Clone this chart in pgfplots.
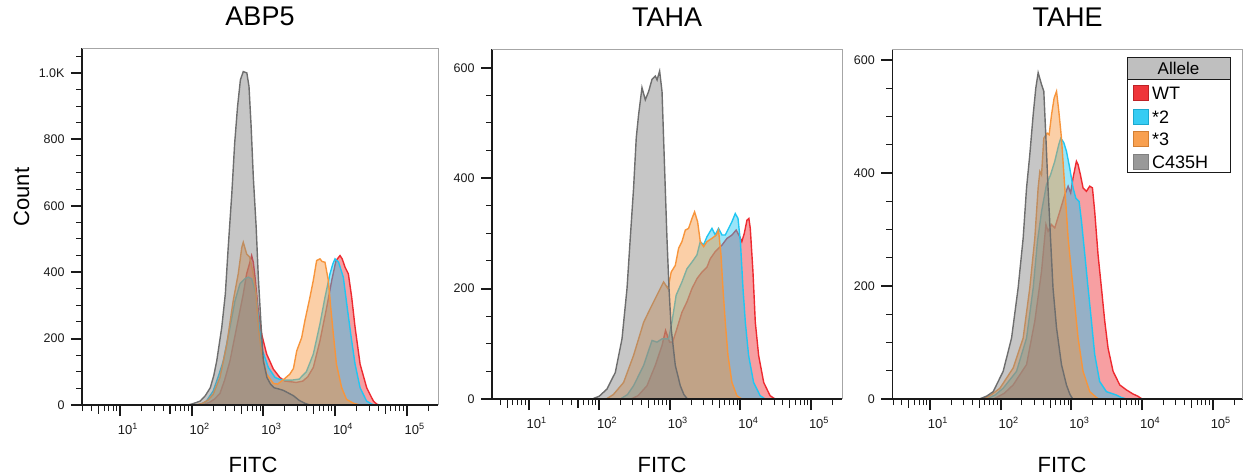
\documentclass[border=0pt]{standalone}
\usepackage{fontspec}
\setmainfont{Liberation Sans}
\usepackage{pgfplots}
\pgfplotsset{compat=1.18}

\definecolor{cWT}{HTML}{EE2A30}
\definecolor{cTwo}{HTML}{20C6F2}
\definecolor{cThree}{HTML}{F7953C}
\definecolor{cGrey}{HTML}{858585}
\definecolor{cGreyL}{HTML}{6E6E6E}
\definecolor{axc}{HTML}{1A1A1A}

\newcommand{\xl}[1]{\fontsize{13}{15}\selectfont 10\textsuperscript{#1}}

\pgfplotsset{
  flowax/.style={
    scale only axis,
    axis x line*=bottom, axis y line*=left, axis on top,
    axis line style={axc, line width=1.2pt},
    ymin=0,
    xtick={1,2,3,4,5},
    xticklabels={\xl{1},\xl{2},\xl{3},\xl{4},\xl{5}},
    minor xtick={0.477,0.602,0.778,0.845,0.903,0.954,
                 1.301,1.477,1.602,1.778,1.845,1.903,1.954,
                 2.301,2.477,2.602,2.778,2.845,2.903,2.954,
                 3.301,3.477,3.602,3.778,3.845,3.903,3.954,
                 4.301,4.477,4.602,4.778,4.845,4.903,4.954,5.301},
    extra x ticks={0.699,1.699,2.699,3.699,4.699},
    extra x tick labels={},
    extra x tick style={major tick length=8.5pt, major tick style={line width=1.2pt, axc}},
    tick align=outside,
    major tick length=11pt, minor tick length=6pt,
    major tick style={line width=2pt, axc},
    minor tick style={line width=1pt, axc},
    tick label style={text=axc},
    xticklabel style={xshift=8pt, yshift=-4pt},
    yticklabel style={font=\fontsize{12.5}{14}\selectfont, xshift=-3pt},
    title style={font=\fontsize{27}{30}\selectfont, anchor=center, at={(0.5,1)}, yshift=26pt},
  },
  wt/.style={draw=cWT, line width=1.4pt, fill=cWT, fill opacity=0.45},
  two/.style={draw=cTwo, line width=1.4pt, fill=cTwo, fill opacity=0.45},
  three/.style={draw=cThree, line width=1.4pt, fill=cThree, fill opacity=0.45},
  grey/.style={draw=cGreyL, line width=1.4pt, fill=cGrey, fill opacity=0.47},
}

\begin{document}
\begin{tikzpicture}
\useasboundingbox (0pt,0pt) rectangle (1244pt,475pt);

% ---------------- ABP5 ----------------
\begin{axis}[flowax, name=ax1, at={(82pt,70pt)}, anchor=south west,
  width=356pt, height=357pt,
  xmin=0.470, xmax=5.437, ymax=1075,
  ytick={0,200,400,600,800,1000},
  yticklabels={0,200,400,600,800,1.0K},
  minor ytick={50,100,...,1050},
  title={ABP5}]
\addplot[wt] coordinates {(2.15,0)(2.25,8)(2.32,18)(2.395,35)(2.46,75)(2.535,133)(2.628,234)(2.72,334)(2.767,395)(2.80,420)(2.837,450)(2.86,430)(2.884,385)(2.93,284)(2.977,213)(3.047,153)(3.14,108)(3.23,83)(3.3,72)(3.38,70)(3.46,68)(3.55,72)(3.62,85)(3.697,113)(3.79,193)(3.884,294)(3.954,375)(4.014,435)(4.07,450)(4.1,440)(4.14,415)(4.186,395)(4.233,324)(4.28,234)(4.35,123)(4.442,52)(4.535,12)(4.58,3)(4.62,0)} \closedcycle;
\addplot[two] coordinates {(2.1,0)(2.2,10)(2.30,42)(2.37,85)(2.442,133)(2.535,234)(2.605,314)(2.674,365)(2.74,380)(2.79,385)(2.837,380)(2.898,334)(2.944,234)(2.99,163)(3.07,113)(3.163,83)(3.23,77)(3.3,75)(3.4,75)(3.5,78)(3.6,100)(3.697,153)(3.79,244)(3.86,324)(3.93,395)(3.97,425)(4.0,440)(4.05,430)(4.116,385)(4.17,294)(4.22,213)(4.28,123)(4.35,52)(4.44,12)(4.51,3)(4.55,0)} \closedcycle;
\addplot[three] coordinates {(2.05,0)(2.15,5)(2.23,15)(2.30,32)(2.395,83)(2.49,183)(2.58,314)(2.65,395)(2.70,475)(2.72,490)(2.767,455)(2.81,445)(2.86,395)(2.898,334)(2.93,234)(2.977,153)(3.047,93)(3.14,65)(3.2,63)(3.3,80)(3.37,93)(3.42,110)(3.466,163)(3.535,203)(3.58,254)(3.65,324)(3.697,375)(3.744,435)(3.79,440)(3.82,432)(3.86,430)(3.907,375)(3.94,294)(3.977,213)(4.02,123)(4.093,52)(4.16,17)(4.26,5)(4.35,0)} \closedcycle;
\addplot[grey] coordinates {(1.95,0)(2.0,3)(2.06,7)(2.12,12)(2.19,28)(2.26,52)(2.31,90)(2.35,133)(2.42,234)(2.47,335)(2.51,475)(2.56,636)(2.60,788)(2.64,898)(2.68,979)(2.72,1004)(2.77,1000)(2.80,959)(2.83,838)(2.86,687)(2.90,536)(2.93,385)(2.97,234)(3.0,133)(3.05,83)(3.1,63)(3.15,52)(3.22,48)(3.28,44)(3.35,36)(3.42,28)(3.5,14)(3.58,5)(3.65,0)} \closedcycle;
\end{axis}
\draw[black!35, line width=0.8pt] (ax1.north west) -- (ax1.north east) -- (ax1.south east);

% ---------------- TAHA ----------------
\begin{axis}[flowax, name=ax2, at={(492pt,76pt)}, anchor=south west,
  width=350pt, height=350pt,
  xmin=0.482, xmax=5.439, ymax=634,
  ytick={0,200,400,600},
  yticklabels={0,200,400,600},
  minor ytick={50,100,...,600},
  title={TAHA}]
\addplot[wt] coordinates {(2.45,0)(2.55,6)(2.677,24)(2.795,61)(2.89,97)(2.94,124)(2.997,103)(3.04,103)(3.1,127)(3.172,157)(3.243,176)(3.314,200)(3.385,218)(3.456,230)(3.527,239)(3.573,254)(3.644,267)(3.74,279)(3.81,291)(3.88,297)(3.94,306)(3.99,294)(4.02,285)(4.055,300)(4.093,324)(4.12,327)(4.14,309)(4.178,230)(4.211,139)(4.258,79)(4.33,30)(4.42,6)(4.49,0)} \closedcycle;
\addplot[two] coordinates {(2.3,0)(2.4,8)(2.487,24)(2.63,61)(2.748,106)(2.819,103)(2.89,109)(2.983,109)(3.03,139)(3.09,188)(3.172,212)(3.243,236)(3.314,248)(3.385,261)(3.432,285)(3.478,279)(3.527,294)(3.597,309)(3.644,297)(3.69,309)(3.74,297)(3.786,297)(3.833,309)(3.88,321)(3.927,336)(3.966,327)(4.0,285)(4.037,200)(4.07,139)(4.116,79)(4.187,30)(4.28,6)(4.35,0)} \closedcycle;
\addplot[three] coordinates {(2.1,0)(2.2,8)(2.346,30)(2.487,79)(2.63,139)(2.724,164)(2.795,182)(2.865,200)(2.912,212)(2.974,200)(3.02,230)(3.078,242)(3.125,273)(3.172,285)(3.22,306)(3.266,309)(3.314,327)(3.351,339)(3.394,321)(3.432,285)(3.48,276)(3.525,285)(3.597,291)(3.658,297)(3.69,306)(3.725,261)(3.753,200)(3.786,139)(3.824,79)(3.88,30)(3.95,6)(4.02,0)} \closedcycle;
\addplot[grey] coordinates {(1.9,0)(2.0,5)(2.11,18)(2.228,48)(2.323,109)(2.394,200)(2.44,291)(2.487,382)(2.525,473)(2.558,515)(2.606,564)(2.653,542)(2.70,557)(2.748,579)(2.795,585)(2.82,578)(2.856,594)(2.89,557)(2.912,473)(2.936,382)(2.96,291)(2.989,200)(3.02,127)(3.078,61)(3.149,24)(3.2,8)(3.25,0)} \closedcycle;
\end{axis}
\draw[black!35, line width=0.8pt] (ax2.north west) -- (ax2.north east) -- (ax2.south east);

% ---------------- TAHE ----------------
\begin{axis}[flowax, name=ax3, at={(892.3pt,76pt)}, anchor=south west,
  width=350.5pt, height=350pt,
  xmin=0.467, xmax=5.425, ymax=620,
  ytick={0,200,400,600},
  yticklabels={0,200,400,600},
  minor ytick={50,100,...,600},
  title={TAHE}]
\addplot[wt] coordinates {(1.9,0)(2.05,10)(2.177,25)(2.366,61)(2.483,138)(2.578,226)(2.64,309)(2.67,297)(2.72,309)(2.765,303)(2.836,332)(2.907,362)(2.954,377)(2.99,365)(3.024,392)(3.071,421)(3.095,415)(3.128,397)(3.165,374)(3.213,368)(3.26,377)(3.298,374)(3.33,332)(3.377,256)(3.425,197)(3.472,138)(3.519,90)(3.59,49)(3.684,25)(3.78,16)(3.87,9)(3.94,5)(4.0,0)} \closedcycle;
\addplot[two] coordinates {(1.8,0)(1.92,7)(2.035,19)(2.224,49)(2.366,108)(2.46,197)(2.52,279)(2.578,332)(2.648,380)(2.705,397)(2.765,421)(2.822,451)(2.85,462)(2.893,454)(2.93,439)(2.977,409)(3.024,374)(3.062,356)(3.109,350)(3.143,315)(3.19,256)(3.236,197)(3.284,138)(3.33,79)(3.4,31)(3.496,13)(3.637,7)(3.7,3)(3.78,0)} \closedcycle;
\addplot[three] coordinates {(1.75,0)(1.85,6)(1.989,19)(2.177,55)(2.318,108)(2.412,197)(2.483,285)(2.53,374)(2.554,403)(2.578,397)(2.61,462)(2.657,471)(2.685,468)(2.72,504)(2.756,533)(2.79,545)(2.822,510)(2.86,462)(2.907,374)(2.954,285)(3.0,226)(3.048,167)(3.095,108)(3.165,49)(3.26,13)(3.38,0)} \closedcycle;
\addplot[grey] coordinates {(1.7,0)(1.8,5)(1.894,13)(2.035,49)(2.154,108)(2.247,197)(2.318,285)(2.366,374)(2.412,433)(2.46,504)(2.497,551)(2.53,578)(2.578,557)(2.61,545)(2.64,462)(2.67,374)(2.705,285)(2.74,197)(2.79,126)(2.86,61)(2.93,25)(2.98,8)(3.02,0)} \closedcycle;
\end{axis}
\draw[black!35, line width=0.8pt] (ax3.north west) -- (ax3.north east) -- (ax3.south east);

% axis labels
\node[rotate=90, font=\fontsize{22}{26}\selectfont] at (21.5pt,278pt) {Count};
\node[font=\fontsize{22}{26}\selectfont] at (253pt,10pt) {FITC};
\node[font=\fontsize{22}{26}\selectfont] at (662pt,10pt) {FITC};
\node[font=\fontsize{22}{26}\selectfont] at (1062pt,10pt) {FITC};

% legend
\fill[black!25] (1127pt,396pt) rectangle (1230pt,418pt);
\draw[axc, line width=0.9pt] (1127pt,396pt) -- (1230pt,396pt);
\draw[axc, line width=0.9pt] (1127pt,303pt) rectangle (1230pt,418pt);
\node[font=\fontsize{17}{20}\selectfont] at (1178.5pt,407pt) {Allele};
\filldraw[fill=cWT!95, draw=cWT!80!black] (1133pt,374.5pt) rectangle (1148pt,389.5pt);
\filldraw[fill=cTwo!90, draw=cTwo!85!black] (1133pt,350.5pt) rectangle (1148pt,365.5pt);
\filldraw[fill=cThree!90, draw=cThree!85!black] (1133pt,328.5pt) rectangle (1148pt,343.5pt);
\filldraw[fill=black!40, draw=black!50] (1133pt,305.5pt) rectangle (1148pt,320.5pt);
\node[anchor=west, font=\fontsize{18}{21}\selectfont, inner sep=0pt] at (1152pt,382pt) {WT};
\node[anchor=west, font=\fontsize{18}{21}\selectfont, inner sep=0pt] at (1152pt,358pt) {*2};
\node[anchor=west, font=\fontsize{18}{21}\selectfont, inner sep=0pt] at (1152pt,336pt) {*3};
\node[anchor=west, font=\fontsize{18}{21}\selectfont, inner sep=0pt] at (1152pt,313pt) {C435H};
\end{tikzpicture}
\end{document}
